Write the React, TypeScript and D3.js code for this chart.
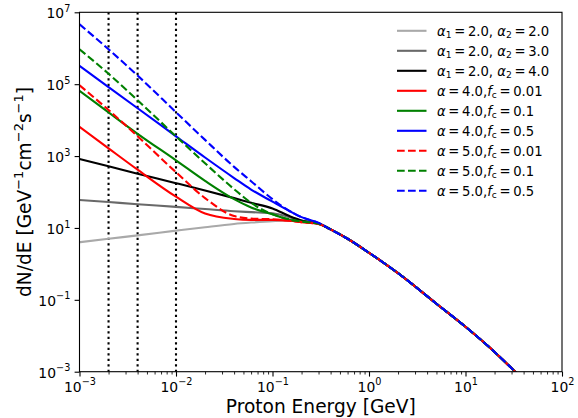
import React, { useEffect, useRef } from 'react';
import * as d3 from 'd3';

const W = 578;
const H = 418;

// energies (GeV) where the low-energy part of each curve was read
const energiesLow = [0.001, 0.002, 0.004, 0.01, 0.02, 0.04, 0.06, 0.1, 0.15, 0.2, 0.3];
// shared high-energy tail
const energiesTail = [0.4, 0.6, 1, 2, 5, 10, 20, 35];
const fluxTail = [9.1, 5.0, 2.04, 0.55, 0.078, 0.0178, 0.00355, 0.00083];

// broken power laws
const fluxA22 = [4.0, 5.0, 6.2, 8.4, 10.5, 12.9, 14.1, 15.5, 16.2, 15.1, 13.2];
const fluxA23 = [60, 52.5, 45.7, 38.5, 33.5, 29.2, 27.5, 25.7, 20.0, 15.8, 13.2];
const fluxA24 = [826, 519, 324, 176, 110, 67.6, 50.1, 34.7, 21.4, 16.2, 13.2];
// alpha = 4
const fluxA4F001 = [6520, 1640, 417, 74, 25.1, 17.8, 16.8, 16.8, 15.8, 14.5, 12.9];
const fluxA4F01 = [65200, 16400, 4170, 759, 204, 63.1, 37.2, 24.0, 17.0, 15.1, 13.2];
const fluxA4F05 = [323000, 83200, 21400, 3550, 912, 245, 117, 53.7, 29.5, 20.0, 13.8];
// alpha = 5
const fluxA5F001 = [93800, 19100, 3550, 355, 67.6, 21.4, 18.2, 17.4, 15.8, 14.5, 12.9];
const fluxA5F01 = [938000, 195000, 35500, 3550, 631, 120, 50.1, 24.0, 17.4, 15.1, 13.2];
const fluxA5F05 = [4650000, 933000, 174000, 16600, 2820, 501, 200, 63.1, 29.5, 20.0, 13.8];

const cutEnergies = [0.002, 0.004, 0.01];
const xTicks = [1e-3, 1e-2, 1e-1, 1, 10, 100];
const yTicks = [1e-3, 1e-1, 1e1, 1e3, 1e5, 1e7];

const series = [
  { values: fluxA22, color: '#a9a9a9', dashed: false, label: ['a12', '2.0', '2.0'] },
  { values: fluxA23, color: '#696969', dashed: false, label: ['a12', '2.0', '3.0'] },
  { values: fluxA24, color: '#000000', dashed: false, label: ['a12', '2.0', '4.0'] },
  { values: fluxA4F001, color: '#ff0000', dashed: false, label: ['af', '4.0', '0.01'] },
  { values: fluxA4F01, color: '#008000', dashed: false, label: ['af', '4.0', '0.1'] },
  { values: fluxA4F05, color: '#0000ff', dashed: false, label: ['af', '4.0', '0.5'] },
  { values: fluxA5F001, color: '#ff0000', dashed: true, label: ['af', '5.0', '0.01'] },
  { values: fluxA5F01, color: '#008000', dashed: true, label: ['af', '5.0', '0.1'] },
  { values: fluxA5F05, color: '#0000ff', dashed: true, label: ['af', '5.0', '0.5'] },
];

const FONT = 'DejaVu Sans';
const LW = 2.1;
const TS = '\u2009'; // thin space around "=" like mathtext

const App = () => {
  const svgRef = useRef(null);

  useEffect(() => {
    const svg = d3.select(svgRef.current);
    svg.selectAll('*').remove();

    const left = 79.5, right = 562, top = 12.3, bottom = 371.7;
    const x = d3.scaleLog().domain([1e-3, 1e2]).range([left, right]);
    const y = d3.scaleLog().domain([1e-3, 1e7]).range([bottom, top]);

    svg.append('defs').append('clipPath').attr('id', 'plotclip')
      .append('rect').attr('x', left).attr('y', top)
      .attr('width', right - left).attr('height', bottom - top);

    // dotted cut lines
    const gCut = svg.append('g').attr('clip-path', 'url(#plotclip)');
    cutEnergies.forEach(e => {
      gCut.append('line')
        .attr('x1', x(e)).attr('x2', x(e))
        .attr('y1', top).attr('y2', bottom)
        .attr('stroke', '#000').attr('stroke-width', LW)
        .attr('stroke-dasharray', '2.1 3.4');
    });

    // curves
    const line = d3.line<[number, number]>()
      .x(d => x(d[0]))
      .y(d => y(d[1]))
      .curve(d3.curveMonotoneX);
    const gLines = svg.append('g').attr('clip-path', 'url(#plotclip)');
    series.forEach(s => {
      const pts: [number, number][] = energiesLow.map((e, i) => [e, s.values[i]] as [number, number])
        .concat(energiesTail.map((e, i) => [e, fluxTail[i]] as [number, number]));
      gLines.append('path')
        .attr('d', line(pts))
        .attr('fill', 'none')
        .attr('stroke', s.color)
        .attr('stroke-width', LW)
        .attr('stroke-dasharray', s.dashed ? '7.7 3.3' : null);
    });

    // axes
    const minorX: number[] = [];
    for (let p = -3; p < 2; p++) for (let m = 2; m < 10; m++) minorX.push(m * Math.pow(10, p));

    const gx = svg.append('g').attr('transform', `translate(0,${bottom})`);
    gx.call(d3.axisBottom(x).tickValues(minorX).tickSize(2.8).tickFormat(() => ''))
      .call(g => g.select('.domain').remove())
      .call(g => g.selectAll('.tick line').attr('stroke-width', 0.85));
    const gx2 = svg.append('g').attr('transform', `translate(0,${bottom})`);
    gx2.call(d3.axisBottom(x).tickValues(xTicks).tickSize(4.9).tickFormat(() => ''))
      .call(g => g.select('.domain').remove())
      .call(g => g.selectAll('.tick line').attr('stroke-width', 1.1));
    gx2.selectAll('.tick text').each(function (d: any) {
      const t = d3.select(this);
      const exp = Math.round(Math.log10(d));
      t.attr('y', 20).attr('dy', 0).attr('font-family', FONT).attr('font-size', 13.9)
        .attr('fill', '#000').attr('text-anchor', 'middle');
      t.append('tspan').text('10');
      t.append('tspan').attr('dy', -6.2).attr('font-size', 9.7)
        .text(String(exp).replace('-', '\u2212'));
    });

    const gy = svg.append('g').attr('transform', `translate(${left},0)`);
    gy.call(d3.axisLeft(y).tickValues(yTicks).tickSize(4.9).tickFormat(() => ''))
      .call(g => g.select('.domain').remove())
      .call(g => g.selectAll('.tick line').attr('stroke-width', 1.1));
    gy.selectAll('.tick text').each(function (d: any) {
      const t = d3.select(this);
      const exp = Math.round(Math.log10(d));
      t.attr('x', -9.2).attr('dy', 0).attr('y', 5.3).attr('font-family', FONT).attr('font-size', 13.9)
        .attr('fill', '#000').attr('text-anchor', 'end');
      t.append('tspan').text('10');
      t.append('tspan').attr('dy', -6.2).attr('font-size', 9.7)
        .text(String(exp).replace('-', '\u2212'));
    });

    // frame
    svg.append('rect')
      .attr('x', left).attr('y', top)
      .attr('width', right - left).attr('height', bottom - top)
      .attr('fill', 'none').attr('stroke', '#000').attr('stroke-width', 1.1);

    // axis labels
    svg.append('text')
      .attr('x', (left + right) / 2).attr('y', 412.5)
      .attr('text-anchor', 'middle')
      .attr('font-family', FONT).attr('font-size', 18.6)
      .text('Proton Energy [GeV]');

    const yl = svg.append('text')
      .attr('transform', `translate(30.5,${(top + bottom) / 2}) rotate(-90)`)
      .attr('text-anchor', 'middle')
      .attr('font-family', FONT).attr('font-size', 18.6);
    yl.append('tspan').text('dN/dE [GeV');
    yl.append('tspan').attr('dy', -7.5).attr('font-size', 13).text('\u22121');
    yl.append('tspan').attr('dy', 7.5).text('cm');
    yl.append('tspan').attr('dy', -7.5).attr('font-size', 13).text('\u22122');
    yl.append('tspan').attr('dy', 7.5).text('s');
    yl.append('tspan').attr('dy', -7.5).attr('font-size', 13).text('\u22121');
    yl.append('tspan').attr('dy', 7.5).text(']');

    // legend
    const gLeg = svg.append('g');
    series.forEach((s, i) => {
      const ry = 30.8 + 20 * i;
      gLeg.append('line')
        .attr('x1', 397).attr('x2', 426.5).attr('y1', ry).attr('y2', ry)
        .attr('stroke', s.color).attr('stroke-width', LW)
        .attr('stroke-dasharray', s.dashed ? '7.7 3.3' : null);
      const t = gLeg.append('text')
        .attr('x', 437).attr('y', ry + 5)
        .attr('font-family', FONT).attr('font-size', 13.2);
      if (s.label[0] === 'a12') {
        t.append('tspan').attr('font-style', 'italic').text('\u03b1');
        t.append('tspan').attr('dy', 2.6).attr('font-size', 9.2).text('1');
        t.append('tspan').attr('dy', -2.6).text(`${TS}=${TS}${s.label[1]}, `);
        t.append('tspan').attr('font-style', 'italic').text('\u03b1');
        t.append('tspan').attr('dy', 2.6).attr('font-size', 9.2).text('2');
        t.append('tspan').attr('dy', -2.6).text(`${TS}=${TS}${s.label[2]}`);
      } else {
        t.append('tspan').attr('font-style', 'italic').text('\u03b1');
        t.append('tspan').text(`${TS}=${TS}${s.label[1]},`);
        t.append('tspan').attr('font-style', 'italic').text('f');
        t.append('tspan').attr('dy', 2.6).attr('font-size', 9.2).text('c');
        t.append('tspan').attr('dy', -2.6).text(`${TS}=${TS}${s.label[2]}`);
      }
    });
  }, []);

  return (
    <svg
      ref={svgRef}
      width={W}
      height={H}
      viewBox={`0 0 ${W} ${H}`}
      style={{ position: 'absolute', left: 0, top: 0, background: '#fff' }}
    />
  );
};

export default App;
